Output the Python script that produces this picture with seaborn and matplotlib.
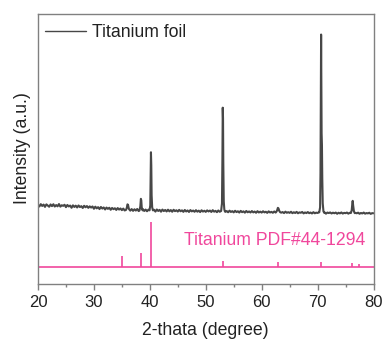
import numpy as np
import pandas as pd
import matplotlib
matplotlib.use("Agg")
import matplotlib.pyplot as plt
import seaborn as sns

# ---------------- data ----------------
# measured pattern: baseline sampled every 0.25 deg from 20 to 80 (a.u.)
base_start, base_step = 20.0, 0.25
baseline = [
    78.5, 76.9, 79.2, 77.4, 78.8, 76.5, 79.0, 77.8, 76.6, 78.9, 77.2, 79.1, 76.8, 78.3, 77.0, 79.3, 76.7, 78.1, 77.5, 78.6,
    76.2, 78.4, 76.9, 77.8, 75.6, 78.0, 76.4, 77.7, 75.9, 77.9, 76.3, 77.2, 75.4, 77.6, 76.1, 77.3, 75.5, 77.0, 75.8, 76.9,
    74.6, 76.7, 75.0, 76.2, 74.3, 76.4, 74.8, 75.9, 73.9, 75.8, 74.5, 75.6, 73.6, 75.4, 74.2, 75.1, 73.4, 75.3, 73.8, 74.9,
    73.2, 74.8, 72.9, 74.5, 73.0, 74.6, 72.7, 74.3, 72.5, 74.1, 72.8, 74.4, 72.3, 73.9, 72.6, 74.2, 72.4, 73.8, 72.1, 73.7,
    72.9, 74.0, 72.2, 73.6, 71.8, 73.9, 72.4, 73.5, 71.7, 73.8, 72.3, 73.4, 71.9, 73.7, 72.0, 73.3, 71.6, 73.6, 72.2, 73.1,
    71.8, 73.5, 72.1, 73.0, 71.5, 73.4, 71.9, 72.9, 71.4, 73.3, 72.0, 72.8, 71.6, 73.2, 71.7, 72.7, 71.3, 73.1, 71.8, 72.6,
    71.5, 73.0, 71.9, 72.8, 71.4, 73.2, 71.7, 72.5, 71.2, 72.9, 71.6, 72.4, 71.3, 72.8, 71.5, 72.3, 71.1, 72.7, 71.4, 72.2,
    71.0, 72.6, 71.3, 72.1, 70.8, 72.5, 71.2, 72.0, 70.7, 72.4, 71.1, 71.9, 70.9, 72.3, 71.0, 71.8, 70.6, 72.2, 70.9, 71.7,
    70.8, 72.1, 71.0, 71.6, 70.5, 72.0, 70.9, 71.5, 70.6, 71.9, 70.8, 71.4, 70.4, 71.8, 70.7, 71.3, 70.3, 71.7, 70.6, 71.2,
    70.5, 71.6, 70.2, 71.1, 70.4, 71.5, 70.1, 71.0, 70.6, 71.4, 70.0, 70.9, 70.3, 71.3, 70.2, 70.8, 69.9, 71.2, 70.1, 70.7,
    70.4, 71.1, 69.8, 70.9, 70.2, 71.0, 69.7, 70.8, 70.3, 70.9, 69.9, 70.7, 70.1, 70.8, 69.6, 70.6, 70.0, 70.9, 69.8, 70.5,
    70.2, 70.8, 69.7, 70.6, 70.0, 70.9, 69.8, 70.5, 70.1, 70.7, 69.6, 70.4, 69.9, 70.8, 69.7, 70.3, 70.0, 70.6, 69.5, 70.2,
    70.1,
]

# peak regions of the measured pattern (replace the baseline inside each window)
peak_windows = [(35.7, 36.3), (38.1, 38.75), (39.9, 40.6), (52.7, 53.45),
                (62.55, 63.35), (70.25, 71.25), (75.9, 76.7)]
peak_2theta = [
    35.75, 35.9, 36.0, 36.1, 36.25,
    38.15, 38.3, 38.4, 38.47, 38.55, 38.7,
    39.95, 40.08, 40.15, 40.2, 40.26, 40.32, 40.42, 40.55,
    52.75, 52.9, 52.98, 53.04, 53.09, 53.14, 53.22, 53.32, 53.42,
    62.6, 62.75, 62.9, 63.0, 63.15, 63.3,
    70.3, 70.45, 70.52, 70.58, 70.63, 70.67, 70.72, 70.78, 70.84, 70.92, 71.05, 71.2,
    75.95, 76.1, 76.2, 76.28, 76.36, 76.5, 76.65,
]
peak_intensity = [
    73.5, 76.0, 79.0, 78.5, 74.5,
    72.8, 77.0, 84.5, 83.0, 76.0, 73.0,
    73.0, 78.0, 105.0, 131.0, 118.0, 88.0, 76.0, 73.0,
    72.4, 80.0, 125.0, 175.5, 165.0, 120.0, 82.0, 74.0, 72.0,
    71.4, 72.8, 75.5, 75.0, 72.5, 71.2,
    71.0, 76.0, 110.0, 196.0, 248.5, 200.0, 150.0, 138.0, 105.0, 80.0, 72.0, 70.5,
    70.3, 73.0, 79.0, 82.5, 78.0, 72.0, 70.2,
]

# reference card Titanium PDF#44-1294
ref_2theta = [35.09, 38.42, 40.17, 53.00, 62.94, 70.66, 76.22, 77.37]
ref_intensity = [25, 30, 100, 13, 11, 11, 9, 6]

x_ticks = [20, 30, 40, 50, 60, 70, 80]
sample_label = "Titanium foil"
ref_label = "Titanium PDF#44-1294"

# ---------------- build table ----------------
base_x = base_start + base_step * np.arange(len(baseline))
base_df = pd.DataFrame({"two_theta": base_x, "intensity": baseline})
mask = np.zeros(len(base_df), dtype=bool)
for lo, hi in peak_windows:
    mask |= (base_df["two_theta"] > lo) & (base_df["two_theta"] < hi)
base_df = base_df[~mask]
peak_df = pd.DataFrame({"two_theta": peak_2theta, "intensity": peak_intensity})
sample = pd.concat([base_df, peak_df]).sort_values("two_theta").reset_index(drop=True)

ref_base = 16.5
ref_scale = 0.45

# ---------------- plot ----------------
sns.set_theme(style="ticks")
plt.rcParams["font.family"] = ["Liberation Sans", "DejaVu Sans"]

spine_col = "#808080"
text_col = "#222222"
pink = "#f0479c"

fig = plt.figure(figsize=(3.85, 3.4), dpi=100)
ax = fig.add_axes([38 / 385, 1 - 283.5 / 340, (373.5 - 38) / 385, (283.5 - 13.5) / 340])

sns.lineplot(data=sample, x="two_theta", y="intensity", ax=ax, color="#474747",
             linewidth=1.5, sort=False, estimator=None, label=sample_label)

ax.axhline(ref_base, color=pink, linewidth=1.2, zorder=1)
ax.vlines(ref_2theta, ref_base, [ref_base + ref_scale * v for v in ref_intensity],
          color=pink, linewidth=1.2)
ax.text(78.6, 42.5, ref_label, color=pink, fontsize=12.7, ha="right", va="center")

ax.set_xlim(20, 80)
ax.set_ylim(0, 269.5)
ax.set_xticks(x_ticks)
ax.set_xticks(np.arange(25, 80, 10), minor=True)
ax.set_yticks([])
ax.tick_params(axis="x", which="major", direction="out", length=4, width=1,
               color=spine_col, labelsize=12, labelcolor=text_col, pad=4)
ax.tick_params(axis="x", which="minor", direction="out", length=2, width=1,
               color=spine_col)
for s in ax.spines.values():
    s.set_color(spine_col)
    s.set_linewidth(1.0)

ax.set_xlabel("2-thata (degree)", fontsize=12.7, color=text_col, labelpad=9)
ax.set_ylabel("Intensity (a.u.)", fontsize=12.7, color=text_col, labelpad=5)

leg = ax.legend(loc="upper left", bbox_to_anchor=(0.0, 0.988), frameon=False,
                fontsize=12.7, handlelength=2.3, handletextpad=0.35,
                borderaxespad=0.0, labelcolor=text_col)
for h in leg.get_lines():
    h.set_linewidth(1.0)

fig.savefig("out.png", dpi=100)
